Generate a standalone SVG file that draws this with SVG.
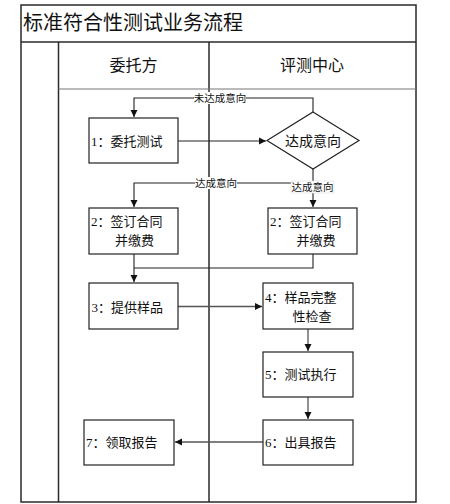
<svg xmlns="http://www.w3.org/2000/svg" width="450" height="504" viewBox="0 0 450 504">
<style>
.frame{fill:none;stroke:#2a2a2a;stroke-width:1.5}
.thin{fill:none;stroke:#777;stroke-width:1.2}
.box{fill:#fff;stroke:#222;stroke-width:1.2}
.con{fill:none;stroke:#222;stroke-width:1.1}
.con2{fill:none;stroke:#555;stroke-width:1.3}
text{font-family:"Liberation Serif","Noto Sans CJK SC",serif;fill:#111}
.t{font-size:13px}
.lbl{font-size:10.5px}
.lbg{fill:#fff;stroke:none}
</style>
<defs>
<marker id="ah" markerWidth="8" markerHeight="8" refX="7" refY="4" orient="auto" markerUnits="userSpaceOnUse">
<path d="M0,0.5 L7,4 L0,7.5 Z" fill="#111"/>
</marker>
</defs>
<rect x="0" y="0" width="450" height="504" fill="#fff"/>
<g id="frame">
<rect class="frame" x="21" y="5" width="395" height="497"/>
<line class="frame" x1="21" y1="42" x2="416" y2="42"/>
<line class="frame" x1="58.5" y1="42" x2="58.5" y2="502"/>
<line class="frame" x1="209" y1="42" x2="209" y2="502"/>
<line class="thin" x1="58.5" y1="89" x2="416" y2="89"/>
<text x="23" y="30" style="font-size:20px">标准符合性测试业务流程</text>
<text x="133.5" y="71" style="font-size:16px" text-anchor="middle">委托方</text>
<text x="312" y="71" style="font-size:16px" text-anchor="middle">评测中心</text>
</g>
<g id="connectors">
<polyline class="con" points="313,112 313,98 134,98 134,117" marker-end="url(#ah)"/>
<line class="con" x1="178" y1="141" x2="266" y2="141" marker-end="url(#ah)"/>
<line class="con" x1="313" y1="169" x2="313" y2="207" marker-end="url(#ah)"/>
<polyline class="con" points="313,183 134,183 134,207" marker-end="url(#ah)"/>
<polyline class="con" points="313,254 313,268 134,268"/>
<line class="con" x1="134" y1="254" x2="134" y2="282" marker-end="url(#ah)"/>
<line class="con2" x1="178" y1="306.5" x2="262" y2="306.5" marker-end="url(#ah)"/>
<line class="con2" x1="308" y1="329" x2="308" y2="351" marker-end="url(#ah)"/>
<line class="con2" x1="308" y1="397" x2="308" y2="419" marker-end="url(#ah)"/>
<line class="con2" x1="263" y1="442" x2="175" y2="442" marker-end="url(#ah)"/>
<rect class="lbg" x="194" y="92" width="52" height="12"/>
<text class="lbl" x="220" y="102" text-anchor="middle">未达成意向</text>
<rect class="lbg" x="195" y="177" width="42" height="12"/>
<text class="lbl" x="216" y="187" text-anchor="middle">达成意向</text>
<rect x="291" y="181" width="43" height="12" fill="#fff" stroke="#ddd" stroke-width="0.6"/>
<text class="lbl" x="312.5" y="191" text-anchor="middle">达成意向</text>
</g>
<g id="n1"><rect class="box" x="89" y="118" width="89" height="45"/><text class="t" x="91" y="146">1：委托测试</text></g>
<g id="decision"><polygon class="box" points="313,112 359,140.5 313,169 267,140.5"/><text x="313" y="146" style="font-size:14px" text-anchor="middle">达成意向</text></g>
<g id="n2a"><rect class="box" x="89" y="208" width="89" height="46"/><text class="t" x="91" y="226">2：签订合同</text><text class="t" x="115" y="245">并缴费</text></g>
<g id="n2b"><rect class="box" x="268" y="208" width="89" height="46"/><text class="t" x="270" y="226">2：签订合同</text><text class="t" x="296.5" y="245">并缴费</text></g>
<g id="n3"><rect class="box" x="89" y="283" width="89" height="46"/><text class="t" x="91.5" y="311.5">3：提供样品</text></g>
<g id="n4"><rect class="box" x="263" y="283" width="90" height="46"/><text class="t" x="265" y="302">4：样品完整</text><text class="t" x="292.5" y="321">性检查</text></g>
<g id="n5"><rect class="box" x="263" y="352" width="90" height="45"/><text class="t" x="265" y="379">5：测试执行</text></g>
<g id="n6"><rect class="box" x="263" y="420" width="90" height="45"/><text class="t" x="265" y="447">6：出具报告</text></g>
<g id="n7"><rect class="box" x="84" y="420" width="90" height="45"/><text class="t" x="86" y="447">7：领取报告</text></g>
</svg>
